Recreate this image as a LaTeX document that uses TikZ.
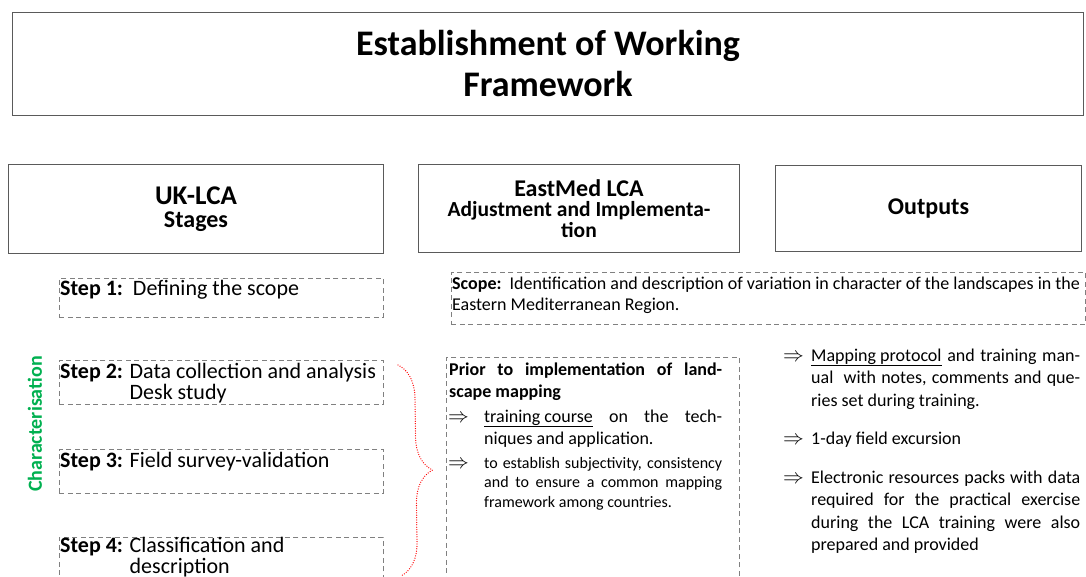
\documentclass[tikz,border=0pt]{standalone}
\usepackage{fontspec}
\setmainfont{Carlito}
\usetikzlibrary{decorations.pathreplacing}

\definecolor{chargreen}{RGB}{0,176,80}
\definecolor{dashgray}{RGB}{128,128,128}
\definecolor{framegray}{RGB}{90,90,90}

\tikzset{
  headbox/.style={draw=framegray, line width=1pt, inner sep=0pt, align=center, font=\bfseries},
  stepbox/.style={draw=dashgray, dash pattern=on 5pt off 3.5pt, line width=0.9pt, inner sep=0pt, anchor=north west},
  steptext/.style={inner sep=0pt, anchor=base west, text width=330pt, align=flush left, font=\fontsize{22}{21}\selectfont},
  bigtext/.style={inner sep=0pt, anchor=base west, align=justify, font=\fontsize{18}{22.5}\selectfont},
  smalltext/.style={inner sep=0pt, anchor=base west, align=justify, font=\fontsize{16}{19.5}\selectfont},
  arrowmark/.style={inner sep=0pt, anchor=base west, font=\fontsize{21}{21}\selectfont},
}

\begin{document}
\begin{tikzpicture}[x=1pt,y=-1pt]
\clip (0,0) rectangle (1086,577);

% headers
\node[headbox, anchor=north west, minimum width=1071, minimum height=103,
      font=\bfseries\fontsize{36}{41}\selectfont] (title) at (12,12)
      {Establishment of Working\\Framework};
\node[headbox, anchor=north west, minimum width=375, minimum height=89,
      font=\bfseries\fontsize{27}{23}\selectfont] (uklca) at (8,164)
      {UK-LCA\\{\fontsize{24}{23}\selectfont Stages}};
\node[headbox, anchor=north west, minimum width=321, minimum height=88,
      font=\bfseries\fontsize{21.5}{20.5}\selectfont] (eastmed) at (418,164)
      {{\fontsize{24}{20.5}\selectfont EastMed LCA}\\Adjustment and Implementa-\\tion};
\node[headbox, anchor=north west, minimum width=306, minimum height=86,
      font=\bfseries\fontsize{24}{24}\selectfont] (outputs) at (775,165) {Outputs};

% UK-LCA steps
\node[stepbox, minimum width=324, minimum height=39] (step1) at (59,278) {};
\node[stepbox, minimum width=324, minimum height=44] (step2) at (59,360) {};
\node[stepbox, minimum width=324, minimum height=44] (step3) at (59,449) {};
\node[stepbox, minimum width=324, minimum height=50] (step4) at (59,537) {};
\node[steptext] (step1txt) at (60,295) {\textbf{Step 1:}\ \ Defining the scope};
\node[steptext] (step2txt) at (60,378)
      {\textbf{Step 2:} Data collection and analysis\\\phantom{\textbf{Step 2:} }Desk study};
\node[steptext] (step3txt) at (60,467) {\textbf{Step 3:} Field survey-validation};
\node[steptext] (step4txt) at (60,552)
      {\textbf{Step 4:} Classification and\\\phantom{\textbf{Step 4:} }description};

\node[rotate=90, inner sep=0pt, text=chargreen, font=\bfseries\fontsize{20}{20}\selectfont]
      (charact) at (35,424) {Characterisation};

% brace to the EastMed column
\coordinate (bracetop) at (398,365);
\coordinate (bracebot) at (401,576);
\draw[red, line width=1.3pt, line cap=round, dash pattern=on 0pt off 2.4pt,
      decorate, decoration={brace, amplitude=33pt}] (bracetop) -- (bracebot);

% EastMed column
\node[stepbox, minimum width=634, minimum height=52] (scope) at (451,272) {};
\node[inner sep=0pt, anchor=base west, text width=660pt, align=flush left, font=\fontsize{18}{21}\selectfont] (scopetxt) at (452,289)
      {\textbf{Scope:}\ \ Identification and description of variation in character of the landscapes in the\\Eastern Mediterranean Region.};

\node[stepbox, minimum width=293, minimum height=240] (prior) at (446,357) {};
\node[bigtext, text width=273pt, font=\bfseries\fontsize{18}{22.5}\selectfont] (priortxt) at (449,375)
      {Prior to implementation of land-\linebreak scape mapping};
\node[arrowmark] (parr1) at (448,422) {$\Rightarrow$};
\node[bigtext, text width=238pt] (prior1) at (484,422)
      {\underline{training course} on the tech-\linebreak niques and application.};
\node[arrowmark] (parr2) at (448,468) {$\Rightarrow$};
\node[smalltext, text width=238pt] (prior2) at (484,468)
      {to establish subjectivity, consistency\linebreak and to ensure a common mapping\linebreak framework among countries.};

% Outputs column
\node[arrowmark] (oarr1) at (783,361) {$\Rightarrow$};
\node[bigtext, text width=269pt] (out1) at (811,361)
      {\underline{Mapping protocol} and training man-\linebreak ual\ \ with notes, comments and que-\linebreak ries set during training.};
\node[arrowmark] (oarr2) at (783,444) {$\Rightarrow$};
\node[bigtext, text width=269pt] (out2) at (811,444) {1-day field excursion};
\node[arrowmark] (oarr3) at (783,483) {$\Rightarrow$};
\node[bigtext, text width=269pt] (out3) at (811,483)
      {Electronic resources packs with data\linebreak required for the practical exercise\linebreak during the LCA training were also\linebreak prepared and provided};
\end{tikzpicture}
\end{document}
